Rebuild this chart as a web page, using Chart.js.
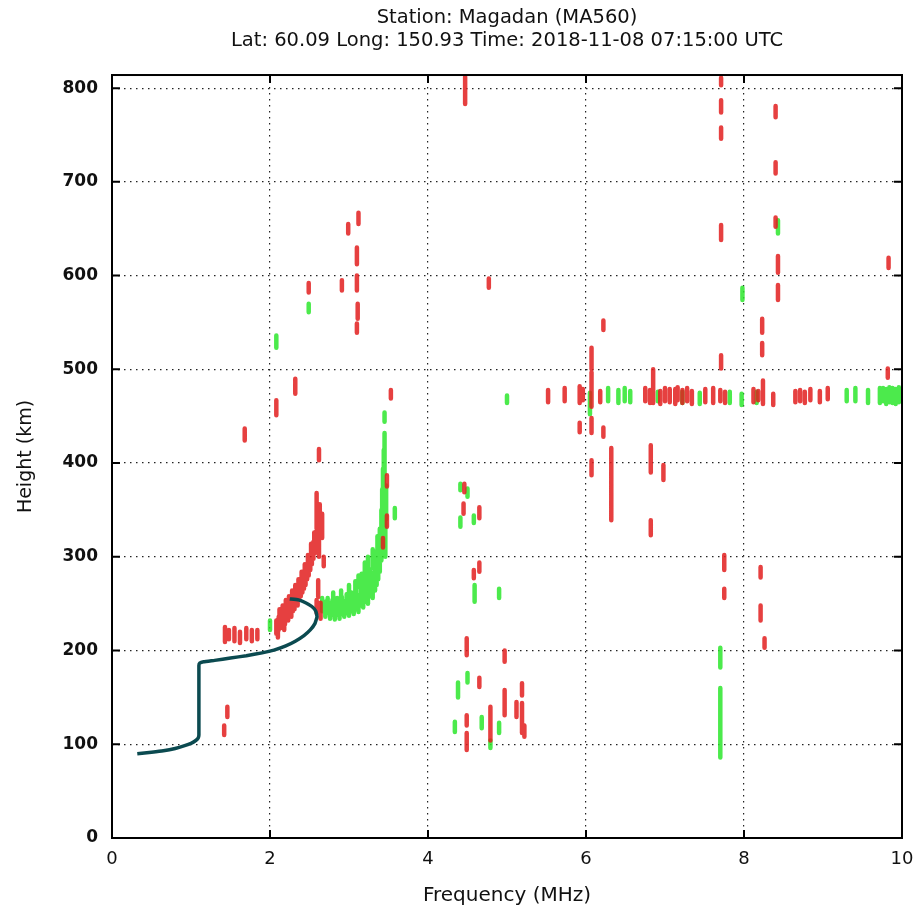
<!DOCTYPE html>
<html>
<head>
<meta charset="utf-8">
<script src="https://cdn.jsdelivr.net/npm/chart.js@4.4.0/dist/chart.umd.min.js"></script>
<style>
  html, body { margin: 0; padding: 0; background: #fff; }
  #wrap { width: 917px; height: 908px; }
</style>
</head>
<body>
<div id="wrap"><canvas id="iono" width="917" height="908"></canvas></div>
<script>
// title text
const titleLines = ['Station: Magadan (MA560)', 'Lat: 60.09 Long: 150.93 Time: 2018-11-08 07:15:00 UTC'];

// axis ticks
const freqTicks = [0, 2, 4, 6, 8, 10];
const heightTicks = [0, 100, 200, 300, 400, 500, 600, 700, 800];

// true height profile (frequency MHz, height km)
const profileFreq =   [0.32, 0.50, 0.65, 0.80, 0.92, 1.00, 1.06, 1.09, 1.10, 1.10, 1.11, 1.16, 1.30, 1.50, 1.70, 1.90, 2.05, 2.20, 2.32, 2.43, 2.51, 2.57, 2.595, 2.58, 2.53, 2.45, 2.36, 2.25];
const profileHeight = [90,   91.5, 93,   95.5, 98.5, 101,  104,  106.5, 110, 184,  186.5, 188, 189.5, 192, 194.5, 197.5, 200.5, 205, 210,  216,  222,  229,  236,   242,  247,  251,  254,  255];

// echo marks: [frequency, height start, height end]
// O-mode (red)
const redMarks = [
  [4.47, 783, 812],
  [3.12, 655, 667], [2.99, 645, 655], [3.10, 612, 630], [2.49, 582, 592], [2.91, 584, 595],
  [3.10, 584, 600], [3.11, 554, 570], [3.10, 539, 549], [4.77, 587, 597],
  [2.32, 474, 490], [2.08, 451, 467], [1.68, 424, 437], [2.62, 403, 415], [3.53, 469, 478],
  [7.71, 803, 811], [7.71, 774, 787], [7.71, 746, 758], [8.40, 769, 781], [8.40, 709, 721],
  [7.71, 638, 654], [8.40, 652, 662], [8.43, 603, 621], [8.43, 574, 590], [9.83, 608, 619],
  [6.22, 542, 552], [8.23, 539, 554], [8.23, 515, 528],
  [6.07, 500, 523], [6.07, 480, 497], [7.71, 501, 515], [9.82, 491, 501],
  [5.92, 433, 443], [6.07, 432, 448], [6.22, 428, 438], [6.07, 387, 403], [6.32, 339, 416],
  [6.82, 390, 419], [6.98, 382, 398], [6.82, 323, 339],
  [7.75, 286, 302], [7.75, 256, 266], [8.21, 278, 289], [8.21, 232, 248], [8.26, 203, 213],
  [4.97, 188, 200], [4.97, 131, 158], [5.19, 152, 165], [5.12, 129, 145], [5.19, 112, 144], [5.22, 108, 120],
  [4.46, 369, 378], [4.45, 346, 357], [4.65, 341, 353], [4.65, 284, 294], [4.58, 277, 286],
  [4.49, 195, 213], [4.65, 161, 171], [4.49, 120, 131], [4.49, 94, 112], [4.79, 104, 140],
  [1.43, 209, 225], [1.48, 212, 222], [1.55, 210, 224], [1.62, 208, 220], [1.70, 212, 224], [1.77, 210, 222], [1.84, 212, 222],
  [1.46, 129, 140], [1.42, 110, 120],
  // band near 470 km
  [5.52, 465, 478], [5.73, 466, 480], [5.92, 464, 482], [5.96, 467, 479], [6.07, 460, 480], [6.18, 465, 477],
  [6.75, 466, 480], [6.81, 464, 478], [6.85, 464, 500], [6.94, 463, 477], [7.00, 466, 480], [7.06, 465, 479],
  [7.13, 463, 479], [7.16, 467, 481], [7.22, 464, 478], [7.28, 466, 480], [7.34, 463, 477], [7.51, 465, 479],
  [7.61, 464, 480], [7.70, 466, 478], [7.76, 464, 476], [8.12, 465, 479], [8.18, 467, 477], [8.24, 463, 488],
  [8.37, 462, 474], [8.65, 465, 477], [8.71, 466, 478], [8.77, 464, 476], [8.84, 467, 479], [8.96, 465, 477], [9.06, 468, 480],
  // F trace
  [2.08, 218, 232], [2.11, 222, 236], [2.13, 226, 240], [2.15, 224, 238], [2.17, 230, 244], [2.19, 228, 240],
  [2.21, 234, 248], [2.23, 232, 246], [2.25, 238, 252], [2.27, 236, 250], [2.29, 242, 256], [2.31, 244, 258],
  [2.33, 250, 262], [2.35, 248, 262], [2.37, 254, 268], [2.39, 258, 272], [2.41, 262, 276], [2.43, 266, 280],
  [2.45, 270, 286], [2.47, 276, 292], [2.49, 280, 296], [2.51, 286, 302], [2.53, 292, 308], [2.55, 298, 316],
  [2.57, 304, 320], [2.59, 310, 328], [2.61, 318, 334], [2.63, 324, 342], [2.59, 330, 368], [2.66, 320, 346],
  [2.68, 290, 300], [2.61, 257, 275], [2.64, 234, 251], [2.59, 240, 254],
  [2.12, 228, 244], [2.16, 232, 248], [2.20, 238, 254], [2.24, 244, 258], [2.28, 250, 264], [2.32, 254, 270],
  [2.36, 260, 276], [2.40, 268, 284], [2.44, 276, 292], [2.48, 286, 302], [2.52, 296, 314], [2.56, 308, 326],
  [2.60, 322, 340], [2.63, 338, 356], [2.62, 300, 320], [2.10, 214, 226], [2.18, 222, 234],
  [3.48, 375, 387], [3.48, 332, 344], [3.43, 310, 320]
];
// X-mode (green)
const greenMarks = [
  [2.49, 561, 570], [2.08, 523, 536], [3.45, 444, 454], [8.43, 645, 659], [7.98, 574, 587], [3.58, 341, 352],
  [4.41, 371, 378], [4.50, 364, 373], [4.41, 332, 342], [4.58, 336, 344], [4.59, 252, 270], [4.90, 256, 266],
  [4.38, 150, 166], [4.50, 166, 176], [4.34, 113, 124], [4.68, 117, 129], [4.79, 96, 104], [4.90, 112, 123],
  [7.70, 182, 203], [7.70, 86, 160], [2.00, 222, 232],
  // band near 470 km
  [5.00, 464, 472], [6.05, 452, 475], [6.28, 466, 480], [6.41, 464, 478], [6.49, 466, 480], [6.56, 465, 477],
  [6.91, 466, 476], [7.22, 464, 476], [7.44, 463, 475], [7.82, 464, 476], [7.97, 462, 474], [8.16, 464, 476],
  [9.30, 466, 478], [9.41, 466, 480], [9.57, 464, 478], [9.72, 464, 480], [9.76, 466, 480], [9.80, 463, 479],
  [9.84, 465, 481], [9.88, 464, 480], [9.92, 463, 479], [9.96, 465, 481],
  // F trace
  [2.66, 242, 256], [2.70, 236, 252], [2.73, 240, 256], [2.76, 234, 250], [2.79, 238, 254], [2.82, 233, 249],
  [2.85, 238, 256], [2.88, 234, 250], [2.91, 239, 257], [2.94, 236, 252], [2.97, 240, 260], [3.00, 237, 255],
  [3.03, 242, 262], [3.06, 239, 257], [3.09, 244, 266], [3.12, 241, 259], [3.15, 248, 270], [3.18, 246, 266],
  [3.21, 252, 276], [3.24, 250, 272], [3.27, 258, 286], [3.30, 256, 282], [3.33, 264, 296], [3.35, 270, 306],
  [3.37, 276, 316], [3.39, 284, 330], [3.41, 296, 350], [3.42, 318, 372], [3.43, 340, 394], [3.44, 362, 414],
  [3.45, 388, 432], [3.46, 300, 340], [3.47, 340, 376],
  [2.80, 246, 262], [2.90, 248, 264], [3.00, 252, 270], [3.08, 256, 274], [3.16, 262, 282], [3.24, 276, 300],
  [3.30, 288, 308], [3.36, 296, 322], [3.20, 280, 294], [3.12, 268, 280]
];

// turn [f, h1, h2] marks into short vertical strokes separated by gaps
function toStrokes(marks) {
  const pts = [];
  marks.forEach(m => {
    pts.push({x: m[0], y: m[1]});
    pts.push({x: m[0], y: m[2]});
    pts.push({x: m[0], y: null});
  });
  return pts;
}

const profilePts = profileFreq.map((f, i) => ({x: f, y: profileHeight[i]}));

// frame and inward tick marks, gnuplot style
const framePlugin = {
  id: 'frame',
  afterDraw(chart) {
    const ctx = chart.ctx;
    const a = chart.chartArea;
    const xs = chart.scales.x, ys = chart.scales.y;
    ctx.save();
    ctx.strokeStyle = '#000';
    ctx.lineWidth = 2;
    ctx.strokeRect(a.left, a.top, a.right - a.left, a.bottom - a.top);
    ctx.beginPath();
    freqTicks.forEach(v => {
      const px = xs.getPixelForValue(v);
      ctx.moveTo(px, a.bottom); ctx.lineTo(px, a.bottom - 8);
      ctx.moveTo(px, a.top); ctx.lineTo(px, a.top + 8);
    });
    heightTicks.forEach(v => {
      const py = ys.getPixelForValue(v);
      ctx.moveTo(a.left, py); ctx.lineTo(a.left + 8, py);
      ctx.moveTo(a.right, py); ctx.lineTo(a.right - 8, py);
    });
    ctx.stroke();
    ctx.restore();
  }
};

const gridStyle = {
  color: '#222',
  lineWidth: 1.2,
  drawTicks: false
};

new Chart(document.getElementById('iono'), {
  type: 'line',
  data: {
    datasets: [
      {
        label: 'profile',
        data: profilePts,
        borderColor: '#0b4a50',
        borderWidth: 3.5,
        borderJoinStyle: 'round',
        pointRadius: 0,
        tension: 0.1,
        order: 0
      },
      {
        label: 'O',
        data: toStrokes(redMarks),
        borderColor: 'rgba(226, 30, 30, 0.85)',
        borderWidth: 4.5,
        borderCapStyle: 'round',
        pointRadius: 0,
        spanGaps: false,
        order: 1
      },
      {
        label: 'X',
        data: toStrokes(greenMarks),
        borderColor: 'rgba(45, 230, 45, 0.85)',
        borderWidth: 4.5,
        borderCapStyle: 'round',
        pointRadius: 0,
        spanGaps: false,
        order: 2
      }
    ]
  },
  options: {
    responsive: false,
    animation: false,
    layout: { padding: { left: 0, right: 15, top: 0, bottom: 0 } },
    plugins: {
      legend: { display: false },
      tooltip: { enabled: false },
      title: {
        display: true,
        text: titleLines,
        fullSize: false,
        color: '#111',
        font: { family: "'DejaVu Sans'", size: 19.5, weight: 'normal', lineHeight: 1.18 },
        padding: { top: 6, bottom: 23 }
      }
    },
    scales: {
      x: {
        type: 'linear',
        min: 0,
        max: 10,
        afterBuildTicks: s => { s.ticks = freqTicks.map(v => ({value: v})); },
        afterFit: s => { s.height = 70; s.paddingLeft = 0; s.paddingRight = 0; },
        grid: Object.assign({ borderDash: [1.5, 4.5] }, gridStyle),
        border: { display: false, dash: [1.5, 4.5] },
        ticks: {
          color: '#111',
          padding: 11,
          font: { family: "'DejaVu Sans'", size: 18 }
        },
        title: {
          display: true,
          text: 'Frequency (MHz)',
          color: '#111',
          font: { family: "'DejaVu Sans'", size: 20 },
          padding: { top: 0, bottom: 0 }
        }
      },
      y: {
        type: 'linear',
        min: 0,
        max: 814,
        afterBuildTicks: s => { s.ticks = heightTicks.map(v => ({value: v})); },
        afterFit: s => { s.width = 112; },
        grid: gridStyle,
        border: { display: false, dash: [1.5, 4.5] },
        ticks: {
          color: '#111',
          padding: 14,
          font: { family: "'DejaVu Sans'", size: 17, weight: 'bold' }
        },
        title: {
          display: true,
          text: 'Height (km)',
          color: '#111',
          font: { family: "'DejaVu Sans'", size: 19 },
          padding: { top: 15, bottom: 0 }
        }
      }
    }
  },
  plugins: [framePlugin]
});
</script>
</body>
</html>
